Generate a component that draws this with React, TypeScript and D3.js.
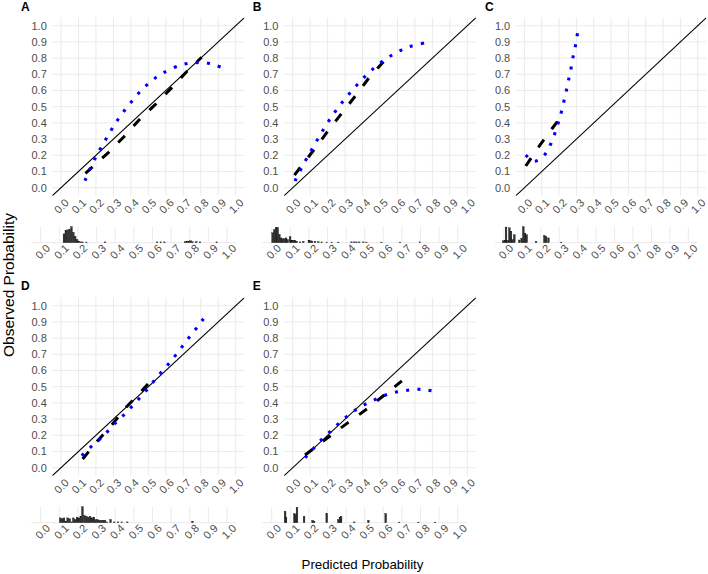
import React from 'react';
import * as d3 from 'd3';

// ---------- data ----------
const tickValues = [0, 0.1, 0.2, 0.3, 0.4, 0.5, 0.6, 0.7, 0.8, 0.9, 1.0];
const tickLabels = ['0.0', '0.1', '0.2', '0.3', '0.4', '0.5', '0.6', '0.7', '0.8', '0.9', '1.0'];
const panelLabels = ['A', 'B', 'C', 'D', 'E'];
const xTitle = 'Predicted Probability';
const yTitle = 'Observed Probability';

// smoothed (blue dotted) calibration curves: [predicted, observed]
const smoothA = [[0.137,0.043],[0.19,0.17],[0.254,0.294],[0.319,0.41],[0.395,0.52],[0.485,0.628],[0.582,0.707],[0.698,0.761],[0.761,0.771],[0.826,0.771],[0.887,0.755],[0.948,0.731]];
const smoothB = [[0.013,0.041],[0.072,0.165],[0.135,0.284],[0.2,0.401],[0.275,0.515],[0.359,0.623],[0.448,0.722],[0.548,0.805],[0.662,0.868],[0.782,0.899]];
const smoothC = [[0.008,0.202],[0.057,0.163],[0.111,0.196],[0.146,0.257],[0.17,0.319],[0.19,0.383],[0.209,0.449],[0.224,0.517],[0.239,0.583],[0.252,0.652],[0.266,0.718],[0.277,0.788],[0.291,0.856],[0.302,0.926],[0.31,0.975]];
const smoothD = [[0.119,0.074],[0.162,0.12],[0.212,0.165],[0.258,0.214],[0.304,0.268],[0.35,0.315],[0.396,0.367],[0.44,0.418],[0.482,0.469],[0.524,0.525],[0.564,0.577],[0.606,0.628],[0.646,0.681],[0.685,0.735],[0.725,0.793],[0.767,0.85],[0.805,0.904],[0.843,0.959]];
const smoothE = [[0.071,0.062],[0.115,0.113],[0.157,0.165],[0.204,0.212],[0.252,0.262],[0.3,0.307],[0.348,0.348],[0.405,0.385],[0.462,0.416],[0.52,0.444],[0.577,0.463],[0.64,0.475],[0.706,0.484],[0.769,0.48],[0.832,0.467]];

// grouped (black dashed) calibration lines
const groupedA = [[0.14,0.089],[0.271,0.216],[0.36,0.315],[0.452,0.424],[0.542,0.516],[0.63,0.613],[0.719,0.716],[0.805,0.805]];
const groupedB = [[0.01,0.078],[0.128,0.243],[0.206,0.356],[0.363,0.572],[0.439,0.681],[0.52,0.778]];
const groupedC = [[0.008,0.134],[0.08,0.249],[0.161,0.367],[0.236,0.472]];
const groupedD = [[0.124,0.054],[0.205,0.16],[0.291,0.264],[0.373,0.373],[0.457,0.469],[0.545,0.572]];
const groupedE = [[0.071,0.078],[0.214,0.196],[0.319,0.28],[0.425,0.362],[0.53,0.453],[0.631,0.541]];

// histograms of predicted probability: [bin centre, relative count]
const histA = [[0.125,0.55],[0.135,0.75],[0.145,0.8],[0.155,0.85],[0.165,1.0],[0.175,0.65],[0.185,0.4],[0.195,0.2],[0.205,0.1],[0.215,0.05],[0.225,0.05],[0.245,0.04],[0.345,0.05],[0.625,0.05],[0.645,0.05],[0.665,0.05],[0.775,0.06],[0.785,0.1],[0.795,0.08],[0.805,0.12],[0.815,0.06],[0.835,0.07],[0.855,0.05],[0.945,0.05]];
const histB = [[0.005,0.62],[0.014,0.82],[0.023,0.95],[0.032,0.96],[0.041,0.52],[0.05,0.3],[0.059,0.25],[0.068,0.25],[0.077,0.3],[0.086,0.2],[0.099,0.38],[0.108,0.15],[0.116,0.15],[0.125,0.14],[0.134,0.1],[0.152,0.05],[0.17,0.08],[0.2,0.15],[0.208,0.12],[0.217,0.1],[0.233,0.08],[0.251,0.06],[0.269,0.05],[0.296,0.04],[0.323,0.04],[0.358,0.04],[0.43,0.05],[0.443,0.05],[0.457,0.05],[0.471,0.05],[0.493,0.05],[0.51,0.04],[0.59,0.04],[0.69,0.04],[0.797,0.05]];
const histC = [[-0.004,0.12],[0.005,0.15],[0.011,0.98],[0.02,0.15],[0.029,0.93],[0.038,0.72],[0.047,0.2],[0.056,0.5],[0.083,0.17],[0.096,0.28],[0.105,1.0],[0.114,0.6],[0.123,0.5],[0.174,0.08],[0.219,0.46],[0.228,0.38],[0.241,0.3],[0.31,0.04]];
const histD = [[0.105,0.3],[0.115,0.25],[0.125,0.3],[0.135,0.1],[0.145,0.3],[0.155,0.25],[0.165,0.05],[0.175,0.3],[0.185,0.2],[0.195,0.35],[0.205,0.3],[0.215,0.4],[0.224,1.0],[0.235,0.45],[0.245,0.4],[0.255,0.35],[0.265,0.4],[0.275,0.3],[0.285,0.35],[0.295,0.2],[0.305,0.2],[0.315,0.15],[0.325,0.15],[0.335,0.15],[0.345,0.15],[0.355,0.05],[0.375,0.2],[0.395,0.05],[0.415,0.05],[0.435,0.05],[0.465,0.05],[0.815,0.1]];
const histE = [[0.072,0.72],[0.077,0.35],[0.122,0.57],[0.129,0.5],[0.136,0.96],[0.174,0.4],[0.22,0.15],[0.228,0.1],[0.296,0.57],[0.358,0.2],[0.367,0.35],[0.373,0.4],[0.444,0.05],[0.52,0.15],[0.613,0.57],[0.685,0.04],[0.789,0.04],[0.878,0.04]];

const smoothSeries = [smoothA, smoothB, smoothC, smoothD, smoothE];
const groupedSeries = [groupedA, groupedB, groupedC, groupedD, groupedE];
const histSeries = [histA, histB, histC, histD, histE];

// ---------- layout ----------
const COLS = [
  { x0: 61, ux: 174.7, hx0: 40.7, hux: 186.3, lx: 21 },
  { x0: 292.7, ux: 174.6, hx0: 271.7, hux: 186, lx: 252.7 },
  { x0: 524.4, ux: 173.3, hx0: 504, hux: 184.3, lx: 485 },
];
const ROWS = [
  { y0: 187.7, uy: 162, hb: 242.7, ly: 11 },
  { y0: 467.7, uy: 162, hb: 522.7, ly: 290 },
];
const HIST_H = 16;
const FONT = 'Liberation Sans, Arial, Helvetica, sans-serif';
const GRID = '#EBEBEB';
const TICK = '#4D4D4D';
const TICK_FS = 11;

type P = number[];

function Panel({ idx }: { idx: number }) {
  const col = idx % 3;
  const row = Math.floor(idx / 3);
  const c = COLS[col];
  const r = ROWS[row];
  const x = d3.scaleLinear().domain([0, 1]).range([c.x0, c.x0 + c.ux]);
  const y = d3.scaleLinear().domain([0, 1]).range([r.y0, r.y0 - r.uy]);
  const hx = d3.scaleLinear().domain([0, 1]).range([c.hx0, c.hx0 + c.hux]);
  const hy = d3.scaleLinear().domain([0, 1]).range([r.hb, r.hb - HIST_H]);
  const xl = x(-0.05), xr = x(1.05), yb = y(-0.05), yt = y(1.05);

  const straight = d3.line<P>().x(d => x(d[0])).y(d => y(d[1]));
  const smooth = d3.line<P>().x(d => x(d[0])).y(d => y(d[1])).curve(d3.curveCatmullRom.alpha(0.5));
  const clipId = `clip-${idx}`;
  const binW = 0.0095 * c.hux;

  return (
    <g>
      <defs>
        <clipPath id={clipId}>
          <rect x={xl} y={yt} width={xr - xl} height={yb - yt} />
        </clipPath>
      </defs>
      {tickValues.map((t, i) => (
        <g key={'g' + i}>
          <line x1={x(t)} x2={x(t)} y1={yt} y2={yb} stroke={GRID} strokeWidth={1} />
          <line x1={xl} x2={xr} y1={y(t)} y2={y(t)} stroke={GRID} strokeWidth={1} />
        </g>
      ))}
      {tickValues.map((t, i) => (
        <text key={'yl' + i} x={xl - 5.5} y={y(t)} dy="0.35em" textAnchor="end" fontSize={TICK_FS} fill={TICK} fontFamily={FONT}>
          {tickLabels[i]}
        </text>
      ))}
      {tickValues.map((t, i) => (
        <text key={'xl' + i} transform={`translate(${x(t) + 0.5},${r.y0 + 18.3}) rotate(-45)`} dy="0.35em" textAnchor="middle" fontSize={TICK_FS} fill={TICK} fontFamily={FONT}>
          {tickLabels[i]}
        </text>
      ))}
      <g clipPath={`url(#${clipId})`}>
        <line x1={x(-0.05)} y1={y(-0.05)} x2={x(1.05)} y2={y(1.05)} stroke="#000" strokeWidth={1.1} />
        <path d={straight(groupedSeries[idx] as P[]) || ''} fill="none" stroke="#000" strokeWidth={3} strokeDasharray="9.5 13" />
        <path d={smooth(smoothSeries[idx] as P[]) || ''} fill="none" stroke="#0000FF" strokeWidth={3.1} strokeDasharray="3 8.3" />
      </g>
      <text x={c.lx} y={r.ly} fontSize={12} fontWeight="bold" fill="#000" fontFamily={FONT}>{panelLabels[idx]}</text>

      {tickValues.map((t, i) => (
        <line key={'hg' + i} x1={hx(t)} x2={hx(t)} y1={hy(1)} y2={hy(0)} stroke={GRID} strokeWidth={1} />
      ))}
      <line x1={hx(-0.05)} x2={hx(1.05)} y1={hy(0)} y2={hy(0)} stroke={GRID} strokeWidth={1} />
      {(histSeries[idx] as P[]).map((d, i) => (
        <rect key={'hb' + i} x={hx(d[0]) - binW / 2} width={binW} y={hy(d[1])} height={hy(0) - hy(d[1])} fill="#333" stroke="#000" strokeWidth={0.3} />
      ))}
      {tickValues.map((t, i) => (
        <text key={'hl' + i} transform={`translate(${hx(t) + 2},${r.hb + 8.8}) rotate(-45)`} dy="0.35em" textAnchor="middle" fontSize={TICK_FS} fill={TICK} fontFamily={FONT}>
          {tickLabels[i]}
        </text>
      ))}
    </g>
  );
}

export default function App() {
  return (
    <svg width={708} height={574} viewBox="0 0 708 574" style={{ position: 'absolute', left: 0, top: 0, background: '#fff' }}>
      <rect x={0} y={0} width={708} height={574} fill="#fff" />
      {panelLabels.map((_, i) => <Panel key={i} idx={i} />)}
      <text x={362.5} y={569} textAnchor="middle" fontSize={13.3} fill="#000" fontFamily={FONT}>{xTitle}</text>
      <text transform="translate(14,285) rotate(-90)" textAnchor="middle" fontSize={15.5} fill="#000" fontFamily={FONT}>{yTitle}</text>
    </svg>
  );
}
